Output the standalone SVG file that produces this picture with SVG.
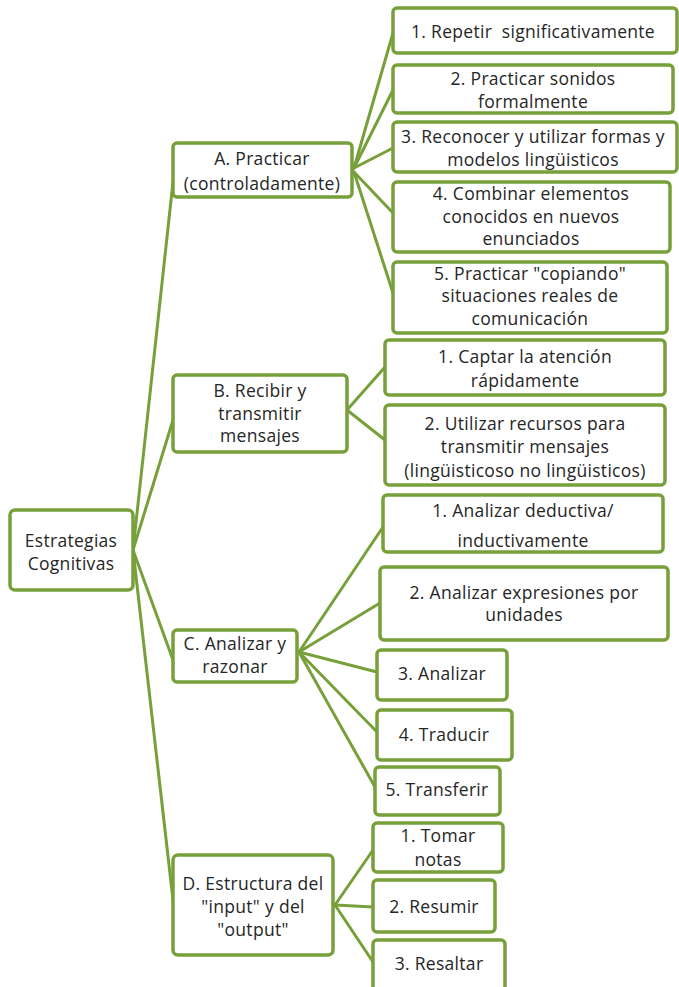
<svg xmlns="http://www.w3.org/2000/svg" width="679" height="987" viewBox="0 0 679 987">
<style>
.box{fill:#ffffff;stroke:#77a03a;stroke-width:3.5}
.ln{stroke:#77a03a;stroke-width:3;fill:none;stroke-linecap:round}
text{font-family:"Open Sans","Liberation Sans",Arial,sans-serif;font-size:17.5px;letter-spacing:0.3px;fill:#262626;text-anchor:middle}
</style>
<rect width="679" height="987" fill="#ffffff"/>
<g id="connectors">
<line class="ln" x1="133" y1="550" x2="173" y2="182"/>
<line class="ln" x1="133" y1="550" x2="173" y2="420"/>
<line class="ln" x1="133" y1="550" x2="173" y2="660"/>
<line class="ln" x1="133" y1="550" x2="173" y2="900"/>
<line class="ln" x1="354" y1="168" x2="393" y2="33"/>
<line class="ln" x1="354" y1="168" x2="393" y2="90"/>
<line class="ln" x1="354" y1="168" x2="393" y2="148"/>
<line class="ln" x1="354" y1="172" x2="393" y2="213"/>
<line class="ln" x1="354" y1="172" x2="393" y2="293"/>
<line class="ln" x1="347" y1="410" x2="385" y2="367"/>
<line class="ln" x1="347" y1="410" x2="385" y2="440"/>
<line class="ln" x1="299" y1="652" x2="383" y2="527"/>
<line class="ln" x1="299" y1="652" x2="380" y2="603"/>
<line class="ln" x1="299" y1="652" x2="377" y2="672"/>
<line class="ln" x1="299" y1="652" x2="377" y2="732"/>
<line class="ln" x1="299" y1="652" x2="375" y2="787"/>
<line class="ln" x1="335" y1="905" x2="373" y2="850"/>
<line class="ln" x1="335" y1="905" x2="373" y2="907"/>
<line class="ln" x1="335" y1="905" x2="373" y2="962"/>
</g>
<g id="root"><rect class="box" x="10" y="510" width="123" height="80" rx="5"/><text x="71" y="547">Estrategias</text><text x="71" y="570">Cognitivas</text></g>
<g id="A"><rect class="box" x="173" y="143" width="179" height="54" rx="4"/><text x="262" y="165">A. Practicar</text><text x="262" y="190">(controladamente)</text></g>
<g id="B"><rect class="box" x="173" y="375" width="174" height="77" rx="4"/><text x="260" y="397">B. Recibir y</text><text x="260" y="420">transmitir</text><text x="260" y="442">mensajes</text></g>
<g id="C"><rect class="box" x="173" y="630" width="124" height="52" rx="4"/><text x="235" y="650">C. Analizar y</text><text x="235" y="673">razonar</text></g>
<g id="D"><rect class="box" x="173" y="855" width="160" height="100" rx="5"/><text x="253" y="890">D. Estructura del</text><text x="253" y="913">"input" y del</text><text x="253" y="936">"output"</text></g>
<g id="A1"><rect class="box" x="393" y="8" width="284" height="45" rx="4"/><text x="533" y="38" xml:space="preserve">1. Repetir  significativamente</text></g>
<g id="A2"><rect class="box" x="393" y="65" width="280" height="48" rx="4"/><text x="533" y="85">2. Practicar sonidos</text><text x="533" y="108">formalmente</text></g>
<g id="A3"><rect class="box" x="393" y="122" width="284" height="50" rx="4"/><text x="533" y="143">3. Reconocer y utilizar formas y</text><text x="533" y="166">modelos lingüisticos</text></g>
<g id="A4"><rect class="box" x="393" y="182" width="277" height="70" rx="4"/><text x="531" y="200">4. Combinar elementos</text><text x="531" y="223">conocidos en nuevos</text><text x="531" y="245">enunciados</text></g>
<g id="A5"><rect class="box" x="393" y="262" width="274" height="71" rx="4"/><text x="530" y="280">5. Practicar "copiando"</text><text x="530" y="302">situaciones reales de</text><text x="530" y="325">comunicación</text></g>
<g id="B1"><rect class="box" x="385" y="340" width="280" height="55" rx="4"/><text x="525" y="363">1. Captar la atención</text><text x="525" y="387">rápidamente</text></g>
<g id="B2"><rect class="box" x="385" y="405" width="280" height="80" rx="4"/><text x="525" y="430">2. Utilizar recursos para</text><text x="525" y="453">transmitir mensajes</text><text x="525" y="477">(lingüisticoso no lingüisticos)</text></g>
<g id="C1"><rect class="box" x="383" y="495" width="280" height="57" rx="4"/><text x="523" y="517">1. Analizar deductiva/</text><text x="523" y="547">inductivamente</text></g>
<g id="C2"><rect class="box" x="380" y="567" width="288" height="73" rx="4"/><text x="524" y="599">2. Analizar expresiones por</text><text x="524" y="621">unidades</text></g>
<g id="C3"><rect class="box" x="377" y="650" width="130" height="50" rx="4"/><text x="442" y="680">3. Analizar</text></g>
<g id="C4"><rect class="box" x="377" y="710" width="135" height="50" rx="4"/><text x="444" y="741">4. Traducir</text></g>
<g id="C5"><rect class="box" x="375" y="767" width="125" height="48" rx="4"/><text x="437" y="796">5. Transferir</text></g>
<g id="D1"><rect class="box" x="373" y="823" width="130" height="49" rx="4"/><text x="438" y="842">1. Tomar</text><text x="438" y="866">notas</text></g>
<g id="D2"><rect class="box" x="373" y="880" width="122" height="52" rx="4"/><text x="434" y="913">2. Resumir</text></g>
<g id="D3"><rect class="box" x="373" y="940" width="132" height="52" rx="4"/><text x="439" y="970">3. Resaltar</text></g>
</svg>
